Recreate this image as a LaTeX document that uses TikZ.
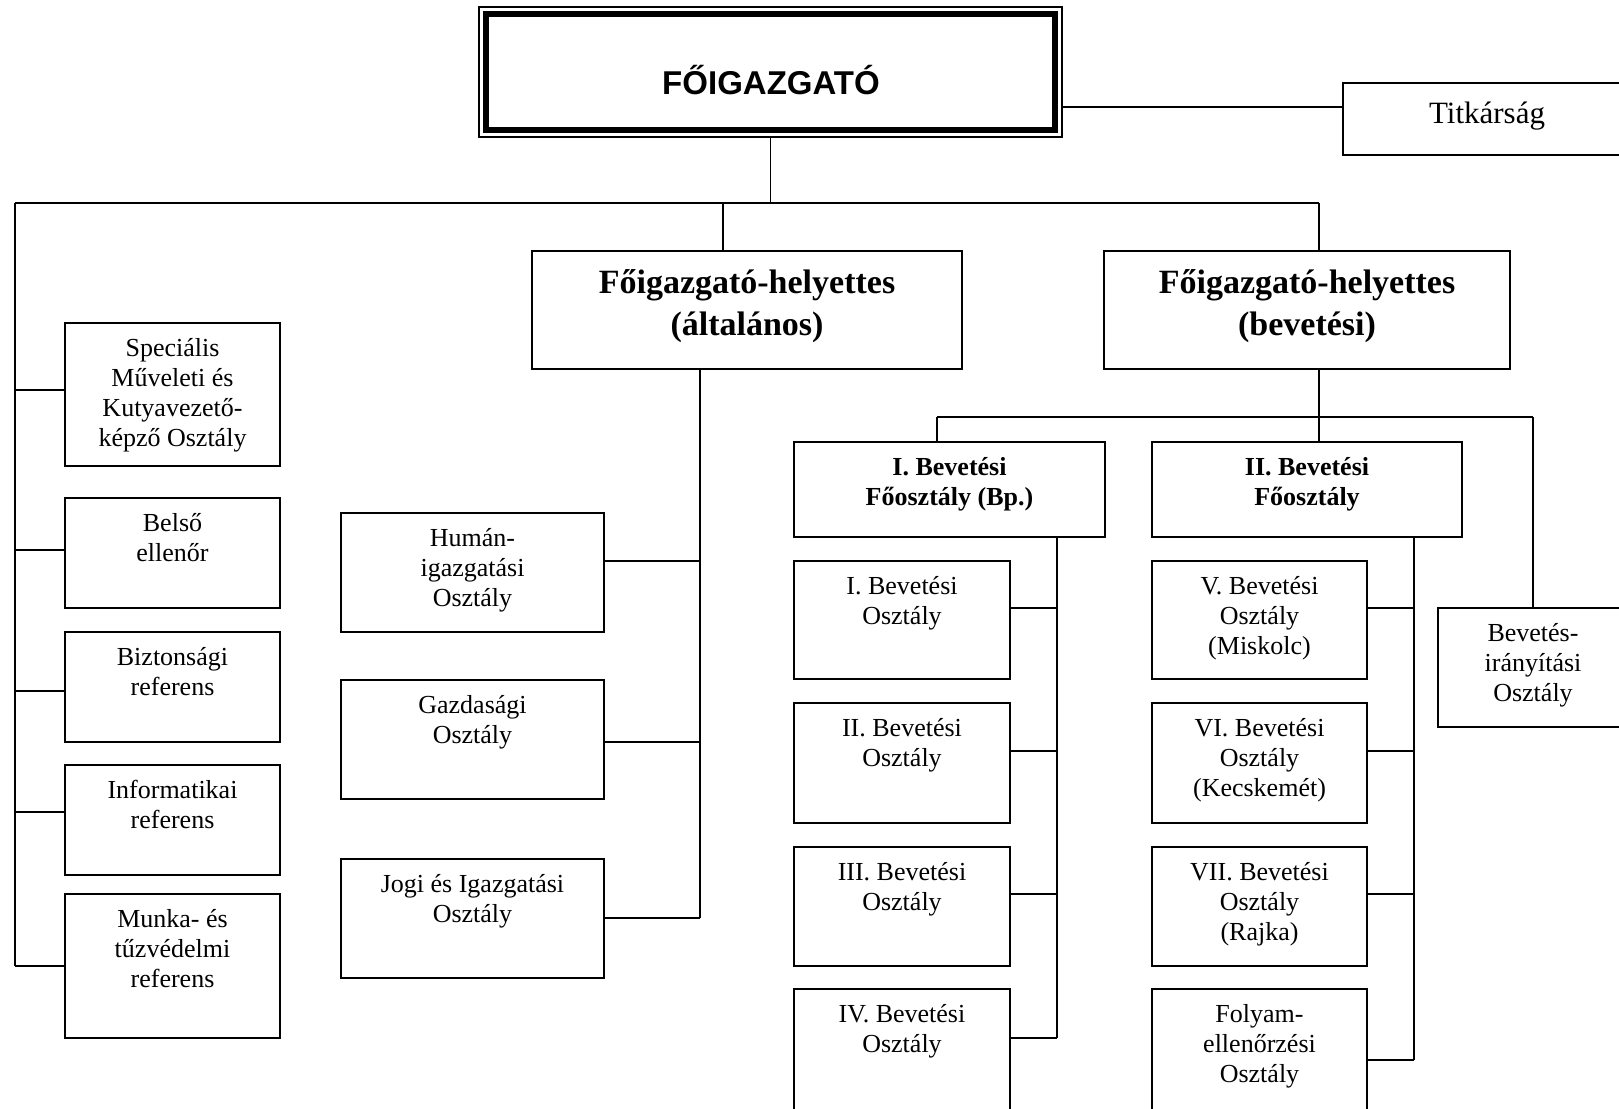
\documentclass[tikz,border=0pt]{standalone}
\usepackage{fontspec}
\setmainfont{Liberation Serif}
\newfontfamily\sansfam{Liberation Sans}
\usetikzlibrary{fit,calc}
\newcommand\firstrule[1]{\rule{0pt}{#1}}
\begin{document}
\begin{tikzpicture}[x=1pt,y=-1pt,
  box/.style={draw, line width=1.7pt, inner sep=0pt},
  conn/.style={line width=1.7pt},
  txt/.style={font=\fontsize{26}{30}\selectfont, align=center, inner sep=0pt, anchor=north, yshift=-12pt},
  btxt/.style={font=\fontsize{26}{30}\selectfont\bfseries, align=center, inner sep=0pt, anchor=north, yshift=-12pt},
  htxt/.style={font=\fontsize{34}{42}\selectfont\bfseries, align=center, inner sep=0pt, anchor=north, yshift=-15pt}]
\useasboundingbox (0,0) rectangle (1619,1108);
\clip (0,0) rectangle (1619,1108);
\fill[white] (0,0) rectangle (1619,1108);

% top box
\node[draw, line width=1.5pt, inner sep=0pt, fit={(479,7)(1062,137)}] (fo) {};
\node[draw, line width=6pt, inner sep=0pt, fit={(486,14)(1055,130)}] (foin) {};
\node[font=\sansfam\bfseries\fontsize{33}{36}\selectfont, anchor=base, inner sep=0pt] (fot) at (771,94) {FŐIGAZGATÓ};

\node[box, fit={(1343,83)(1640,155)}] (titk) {};
\node[font=\fontsize{31}{36}\selectfont, anchor=base, inner sep=0pt] (titkt) at (1487,123) {Titkárság};

% deputies
\node[box, fit={(532,251)(962,369)}] (alt) {};
\node[htxt] (altt) at (alt.north) {\firstrule{28pt}Főigazgató-helyettes\\(általános)};
\node[box, fit={(1104,251)(1510,369)}] (bev) {};
\node[htxt] (bevt) at (bev.north) {\firstrule{28pt}Főigazgató-helyettes\\(bevetési)};

% left column
\node[box, fit={(65,323)(280,466)}] (spec) {};
\node[txt] (spect) at (spec.north) {\firstrule{22pt}Speciális\\Műveleti és\\Kutyavezető-\\képző Osztály};
\node[box, fit={(65,498)(280,608)}] (belso) {};
\node[txt] (belsot) at (belso.north) {\firstrule{22pt}Belső\\ellenőr};
\node[box, fit={(65,632)(280,742)}] (bizt) {};
\node[txt] (biztt) at (bizt.north) {\firstrule{22pt}Biztonsági\\referens};
\node[box, fit={(65,765)(280,875)}] (info) {};
\node[txt] (infot) at (info.north) {\firstrule{22pt}Informatikai\\referens};
\node[box, fit={(65,894)(280,1038)}] (munka) {};
\node[txt] (munkat) at (munka.north) {\firstrule{22pt}Munka- és\\tűzvédelmi\\referens};

% middle column
\node[box, fit={(341,513)(604,632)}] (human) {};
\node[txt] (humant) at (human.north) {\firstrule{22pt}Humán-\\igazgatási\\Osztály};
\node[box, fit={(341,680)(604,799)}] (gazd) {};
\node[txt] (gazdt) at (gazd.north) {\firstrule{22pt}Gazdasági\\Osztály};
\node[box, fit={(341,859)(604,978)}] (jogi) {};
\node[txt] (jogit) at (jogi.north) {\firstrule{22pt}Jogi és Igazgatási\\Osztály};

% right part
\node[box, fit={(794,442)(1105,537)}] (foI) {};
\node[btxt] (foIt) at (foI.north) {\firstrule{22pt}I. Bevetési\\Főosztály (Bp.)};
\node[box, fit={(1152,442)(1462,537)}] (foII) {};
\node[btxt] (foIIt) at (foII.north) {\firstrule{22pt}II. Bevetési\\Főosztály};

\node[box, fit={(794,561)(1010,679)}] (bI) {};
\node[txt] (bIt) at (bI.north) {\firstrule{22pt}I. Bevetési\\Osztály};
\node[box, fit={(794,703)(1010,823)}] (bII) {};
\node[txt] (bIIt) at (bII.north) {\firstrule{22pt}II. Bevetési\\Osztály};
\node[box, fit={(794,847)(1010,966)}] (bIII) {};
\node[txt] (bIIIt) at (bIII.north) {\firstrule{22pt}III. Bevetési\\Osztály};
\node[box, fit={(794,989)(1010,1130)}] (bIV) {};
\node[txt] (bIVt) at (bIV.north) {\firstrule{22pt}IV. Bevetési\\Osztály};

\node[box, fit={(1152,561)(1367,679)}] (bV) {};
\node[txt] (bVt) at (bV.north) {\firstrule{22pt}V. Bevetési\\Osztály\\(Miskolc)};
\node[box, fit={(1152,703)(1367,823)}] (bVI) {};
\node[txt] (bVIt) at (bVI.north) {\firstrule{22pt}VI. Bevetési\\Osztály\\(Kecskemét)};
\node[box, fit={(1152,847)(1367,966)}] (bVII) {};
\node[txt] (bVIIt) at (bVII.north) {\firstrule{22pt}VII. Bevetési\\Osztály\\(Rajka)};
\node[box, fit={(1152,989)(1367,1130)}] (folyam) {};
\node[txt] (folyamt) at (folyam.north) {\firstrule{22pt}Folyam-\\ellenőrzési\\Osztály};

\node[box, fit={(1438,608)(1628,727)}] (bevir) {};
\node[txt] (bevirt) at (bevir.north) {\firstrule{22pt}Bevetés-\\irányítási\\Osztály};

% connectors
\coordinate (hl) at (15,203);
\coordinate (hr) at (1319,203);
\coordinate (lb) at (15,966);
\draw[conn] (fo.south) -- (fo.south |- hl);
\draw[conn] (hl) -- (hr);
\draw[conn] (hl) -- (lb);
\draw[conn] (fo.east |- 0,107) -- (titk.west |- 0,107);
\draw[conn] (723,203) -- (alt.north -| 723,0);
\draw[conn] (hr) -- (bev.north -| hr);

\draw[conn] (spec.west |- 0,390) -- (hl |- 0,390);
\draw[conn] (belso.west |- 0,550) -- (hl |- 0,550);
\draw[conn] (bizt.west |- 0,691) -- (hl |- 0,691);
\draw[conn] (info.west |- 0,812) -- (hl |- 0,812);
\draw[conn] (munka.west |- lb) -- (lb);

\coordinate (mv) at (700,918);
\draw[conn] (alt.south -| mv) -- (mv);
\draw[conn] (human.east |- 0,561) -- (mv |- 0,561);
\draw[conn] (gazd.east |- 0,742) -- (mv |- 0,742);
\draw[conn] (jogi.east |- mv) -- (mv);

\coordinate (rh1) at (937,417);
\coordinate (rh2) at (1533,417);
\draw[conn] (bev.south -| hr) -- (hr |- rh1);
\draw[conn] (rh1) -- (rh2);
\draw[conn] (rh1) -- (foI.north -| rh1);
\draw[conn] (hr |- rh1) -- (foII.north -| hr);
\draw[conn] (rh2) -- (bevir.north);

\coordinate (c1) at (1057,1038);
\draw[conn] (foI.south -| c1) -- (c1);
\draw[conn] (bI.east |- 0,608) -- (c1 |- 0,608);
\draw[conn] (bII.east |- 0,751) -- (c1 |- 0,751);
\draw[conn] (bIII.east |- 0,894) -- (c1 |- 0,894);
\draw[conn] (bIV.east |- c1) -- (c1);

\coordinate (c2) at (1414,1060);
\draw[conn] (foII.south -| c2) -- (c2);
\draw[conn] (bV.east |- 0,608) -- (c2 |- 0,608);
\draw[conn] (bVI.east |- 0,751) -- (c2 |- 0,751);
\draw[conn] (bVII.east |- 0,894) -- (c2 |- 0,894);
\draw[conn] (folyam.east |- c2) -- (c2);
\end{tikzpicture}
\end{document}
